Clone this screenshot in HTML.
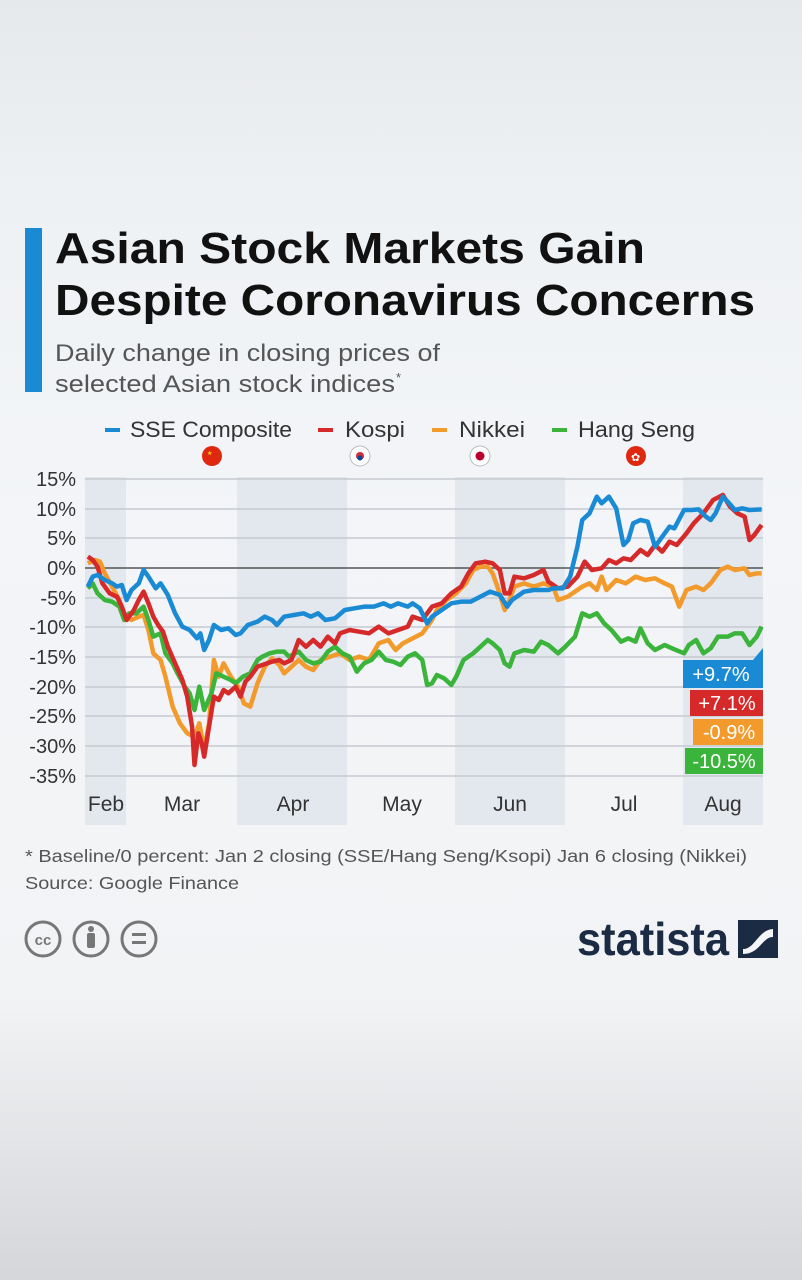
<!DOCTYPE html>
<html><head><meta charset="utf-8"><style>
html,body{margin:0;padding:0;}
body{width:802px;height:1280px;overflow:hidden;font-family:"Liberation Sans",sans-serif;}
</style></head><body>
<svg width="802" height="1280" viewBox="0 0 802 1280" xmlns="http://www.w3.org/2000/svg" font-family="Liberation Sans, sans-serif">
<defs>
<linearGradient id="bg" x1="0" y1="0" x2="0" y2="1">
<stop offset="0" stop-color="#e6e9ec"/>
<stop offset="0.15" stop-color="#eef1f4"/>
<stop offset="0.4" stop-color="#f3f5f8"/>
<stop offset="0.78" stop-color="#f1f3f5"/>
<stop offset="1" stop-color="#d4d6d9"/>
</linearGradient>
</defs>
<rect width="802" height="1280" fill="url(#bg)"/>
<rect x="25" y="228" width="17" height="164" fill="#1a8ad4"/>
<text x="55" y="263" font-size="44" font-weight="bold" fill="#111" textLength="590" lengthAdjust="spacingAndGlyphs">Asian Stock Markets Gain</text>
<text x="55" y="315" font-size="44" font-weight="bold" fill="#111" textLength="700" lengthAdjust="spacingAndGlyphs">Despite Coronavirus Concerns</text>
<text x="55" y="361" font-size="24" fill="#555" textLength="385" lengthAdjust="spacingAndGlyphs">Daily change in closing prices of</text>
<text x="55" y="392" font-size="24" fill="#555" textLength="340" lengthAdjust="spacingAndGlyphs">selected Asian stock indices</text>
<text x="396" y="382" font-size="13" fill="#555">*</text>
<g font-size="22" fill="#333">
<rect x="105" y="428" width="15" height="4" fill="#1a8ad4"/><text x="130" y="437" textLength="162" lengthAdjust="spacingAndGlyphs">SSE Composite</text>
<rect x="318" y="428" width="15" height="4" fill="#d62a2a"/><text x="345" y="437" textLength="60" lengthAdjust="spacingAndGlyphs">Kospi</text>
<rect x="432" y="428" width="15" height="4" fill="#f39a2c"/><text x="459" y="437" textLength="66" lengthAdjust="spacingAndGlyphs">Nikkei</text>
<rect x="552" y="428" width="15" height="4" fill="#3bb43b"/><text x="578" y="437" textLength="117" lengthAdjust="spacingAndGlyphs">Hang Seng</text>
</g>
<circle cx="212" cy="456" r="10" fill="#de2910"/><text x="207" y="455" font-size="6" fill="#ffde00">★</text>
<circle cx="360" cy="456" r="10" fill="#fff" stroke="#bbb"/><circle cx="360" cy="456" r="4" fill="#cd2e3a"/><circle cx="360" cy="458" r="2.5" fill="#0047a0"/>
<circle cx="480" cy="456" r="10" fill="#fff" stroke="#bbb"/><circle cx="480" cy="456" r="4.5" fill="#bc002d"/>
<circle cx="636" cy="456" r="10" fill="#de2910"/><text x="631" y="461" font-size="11" fill="#fff">✿</text>
<g fill="#e3e7ee">
<rect x="85" y="477" width="41" height="348"/>
<rect x="237" y="477" width="110" height="348"/>
<rect x="455" y="477" width="110" height="348"/>
<rect x="683" y="477" width="80" height="348"/>
</g>
<g stroke="#c6cad1" stroke-width="1.5">
<line x1="85" x2="763" y1="479" y2="479"/><line x1="85" x2="763" y1="509" y2="509"/>
<line x1="85" x2="763" y1="538" y2="538"/><line x1="85" x2="763" y1="598" y2="598"/>
<line x1="85" x2="763" y1="627" y2="627"/><line x1="85" x2="763" y1="657" y2="657"/>
<line x1="85" x2="763" y1="687" y2="687"/><line x1="85" x2="763" y1="716" y2="716"/>
<line x1="85" x2="763" y1="746" y2="746"/><line x1="85" x2="763" y1="776" y2="776"/>
</g>
<line x1="85" x2="763" y1="568" y2="568" stroke="#555" stroke-width="1.5"/>
<g font-size="20" fill="#333" text-anchor="end">
<text x="76" y="486">15%</text><text x="76" y="516">10%</text><text x="76" y="545">5%</text>
<text x="76" y="575">0%</text><text x="76" y="605">-5%</text><text x="76" y="634">-10%</text>
<text x="76" y="664">-15%</text><text x="76" y="694">-20%</text><text x="76" y="723">-25%</text>
<text x="76" y="753">-30%</text><text x="76" y="783">-35%</text>
</g>
<g font-size="21" fill="#333" text-anchor="middle">
<text x="106" y="811">Feb</text><text x="182" y="811">Mar</text><text x="293" y="811">Apr</text>
<text x="402" y="811">May</text><text x="510" y="811">Jun</text><text x="624" y="811">Jul</text><text x="723" y="811">Aug</text>
</g>
<g transform="translate(20,460) scale(0.4847,0.33333)" fill="none" stroke-width="4.5" stroke-linejoin="round">
<polyline vector-effect="non-scaling-stroke" stroke="#f39a2c" points="140,310 155,300 165,305 175,340 190,380 205,420 215,470 230,480 245,470 255,465 265,510 275,580 290,600 300,650 315,740 330,790 345,820 360,830 370,790 380,870 390,790 400,600 410,650 420,610 435,650 450,680 462,730 475,740 490,670 505,620 520,595 535,615 545,640 560,620 575,600 590,620 605,630 620,600 640,590 660,580 680,600 700,590 720,600 740,550 760,540 775,570 790,550 810,535 830,520 840,500 850,480 860,450 880,420 900,400 920,370 935,330 950,320 965,320 975,340 985,380 1000,450 1010,420 1020,380 1040,370 1060,380 1080,370 1100,380 1110,420 1130,410 1145,395 1160,380 1175,370 1190,390 1200,350 1210,390 1230,360 1250,370 1270,350 1290,360 1310,355 1330,370 1345,380 1360,440 1375,390 1395,380 1410,390 1425,370 1445,330 1460,320 1475,330 1495,325 1505,345 1520,340 1530,340"/>
<polyline vector-effect="non-scaling-stroke" stroke="#3bb43b" points="140,385 150,370 160,400 175,420 190,425 205,440 215,480 225,460 240,460 255,440 265,480 275,530 290,520 300,580 315,610 325,640 340,680 350,700 360,750 370,680 380,750 395,700 405,640 420,650 435,660 445,670 460,650 475,640 490,600 500,590 515,580 530,575 545,575 555,590 575,575 590,600 605,610 620,605 635,575 650,560 665,580 680,590 695,635 710,610 725,600 740,575 755,600 770,605 785,615 800,590 815,580 830,600 840,675 850,670 860,645 875,655 890,675 900,650 915,600 935,580 950,560 965,540 975,550 990,570 1000,610 1010,620 1020,580 1040,570 1060,575 1075,545 1090,555 1110,580 1125,560 1145,530 1160,460 1175,470 1190,460 1205,490 1220,510 1240,545 1255,535 1270,545 1280,505 1295,550 1310,570 1330,555 1345,565 1370,580 1380,555 1395,540 1410,580 1425,565 1440,530 1460,530 1475,520 1490,520 1505,555 1520,530 1530,500"/>
<polyline vector-effect="non-scaling-stroke" stroke="#d62a2a" points="140,290 150,300 160,320 170,370 185,400 200,410 210,440 220,480 235,450 245,420 255,395 265,430 275,470 285,495 295,515 305,560 320,610 335,660 345,710 355,800 360,915 368,820 375,850 380,890 390,800 400,710 410,720 420,690 430,700 445,680 455,710 465,665 475,650 490,620 500,615 520,605 535,600 545,610 560,600 575,540 590,560 605,540 620,560 635,530 650,550 660,520 680,510 700,515 720,520 740,500 760,520 780,510 800,500 810,470 830,480 850,440 870,430 890,400 910,380 925,340 940,310 960,305 975,310 990,330 1000,400 1010,400 1020,350 1040,355 1060,345 1080,330 1090,365 1110,385 1130,380 1150,350 1165,305 1180,330 1200,325 1215,300 1230,310 1245,295 1260,300 1280,270 1295,285 1310,255 1325,275 1340,245 1355,255 1375,220 1390,190 1410,160 1430,120 1450,105 1465,140 1480,160 1495,170 1505,240 1515,225 1530,195"/>
<polyline vector-effect="non-scaling-stroke" stroke="#1a8ad4" points="140,380 150,350 160,345 175,360 190,370 200,380 210,375 220,420 230,390 245,370 255,330 265,350 280,385 290,370 305,405 320,460 335,500 350,510 365,535 372,520 380,570 390,540 400,495 415,510 430,505 445,525 455,520 470,495 490,485 505,470 520,480 530,495 545,470 565,465 585,460 600,470 615,460 630,480 650,475 670,450 690,445 710,440 730,440 750,430 765,440 780,430 800,440 810,430 825,445 840,490 850,470 870,450 890,430 910,425 930,425 950,410 970,395 990,405 1005,440 1015,420 1040,395 1060,390 1090,390 1100,385 1120,385 1135,350 1150,260 1160,180 1175,160 1190,110 1200,130 1215,110 1230,145 1245,255 1255,240 1265,190 1280,180 1295,185 1310,260 1325,230 1340,200 1350,205 1370,150 1385,150 1400,148 1415,170 1425,180 1435,160 1450,110 1460,125 1475,150 1490,145 1505,150 1530,148"/>
</g>
<polygon points="683,660 753,660 763,648 763,688 683,688" fill="#1a8ad4"/>
<text x="721" y="681" font-size="20" fill="#fff" text-anchor="middle">+9.7%</text>
<rect x="690" y="690" width="73" height="26" fill="#d62a2a"/>
<text x="727" y="710" font-size="20" fill="#fff" text-anchor="middle">+7.1%</text>
<rect x="693" y="719" width="70" height="26" fill="#f39a2c"/>
<text x="729" y="739" font-size="20" fill="#fff" text-anchor="middle">-0.9%</text>
<rect x="685" y="748" width="78" height="26" fill="#3bb43b"/>
<text x="724" y="768" font-size="20" fill="#fff" text-anchor="middle">-10.5%</text>
<text x="25" y="862" font-size="17.5" fill="#555" textLength="722" lengthAdjust="spacingAndGlyphs">* Baseline/0 percent: Jan 2 closing (SSE/Hang Seng/Ksopi) Jan 6 closing (Nikkei)</text>
<text x="25" y="889" font-size="17.5" fill="#555" textLength="214" lengthAdjust="spacingAndGlyphs">Source: Google Finance</text>
<g fill="none" stroke="#777" stroke-width="3">
<circle cx="43" cy="939" r="17"/><circle cx="91" cy="939" r="17"/><circle cx="139" cy="939" r="17"/>
</g>
<text x="43" y="945" font-size="15" font-weight="bold" fill="#777" text-anchor="middle">cc</text>
<circle cx="91" cy="929" r="3" fill="#777"/><rect x="87" y="933" width="8" height="15" rx="2" fill="#777"/>
<rect x="132" y="933" width="14" height="3" fill="#777"/><rect x="132" y="941" width="14" height="3" fill="#777"/>
<text x="577" y="955" font-size="46" font-weight="bold" fill="#1b2b44" textLength="152" lengthAdjust="spacingAndGlyphs">statista</text>
<rect x="738" y="920" width="40" height="38" fill="#1b2b44"/>
<path d="M743,949 C755,949 758,930 773,929 L773,937 C762,937 760,954 743,954 Z" fill="#f3f5f8"/>
</svg>
</body></html>
